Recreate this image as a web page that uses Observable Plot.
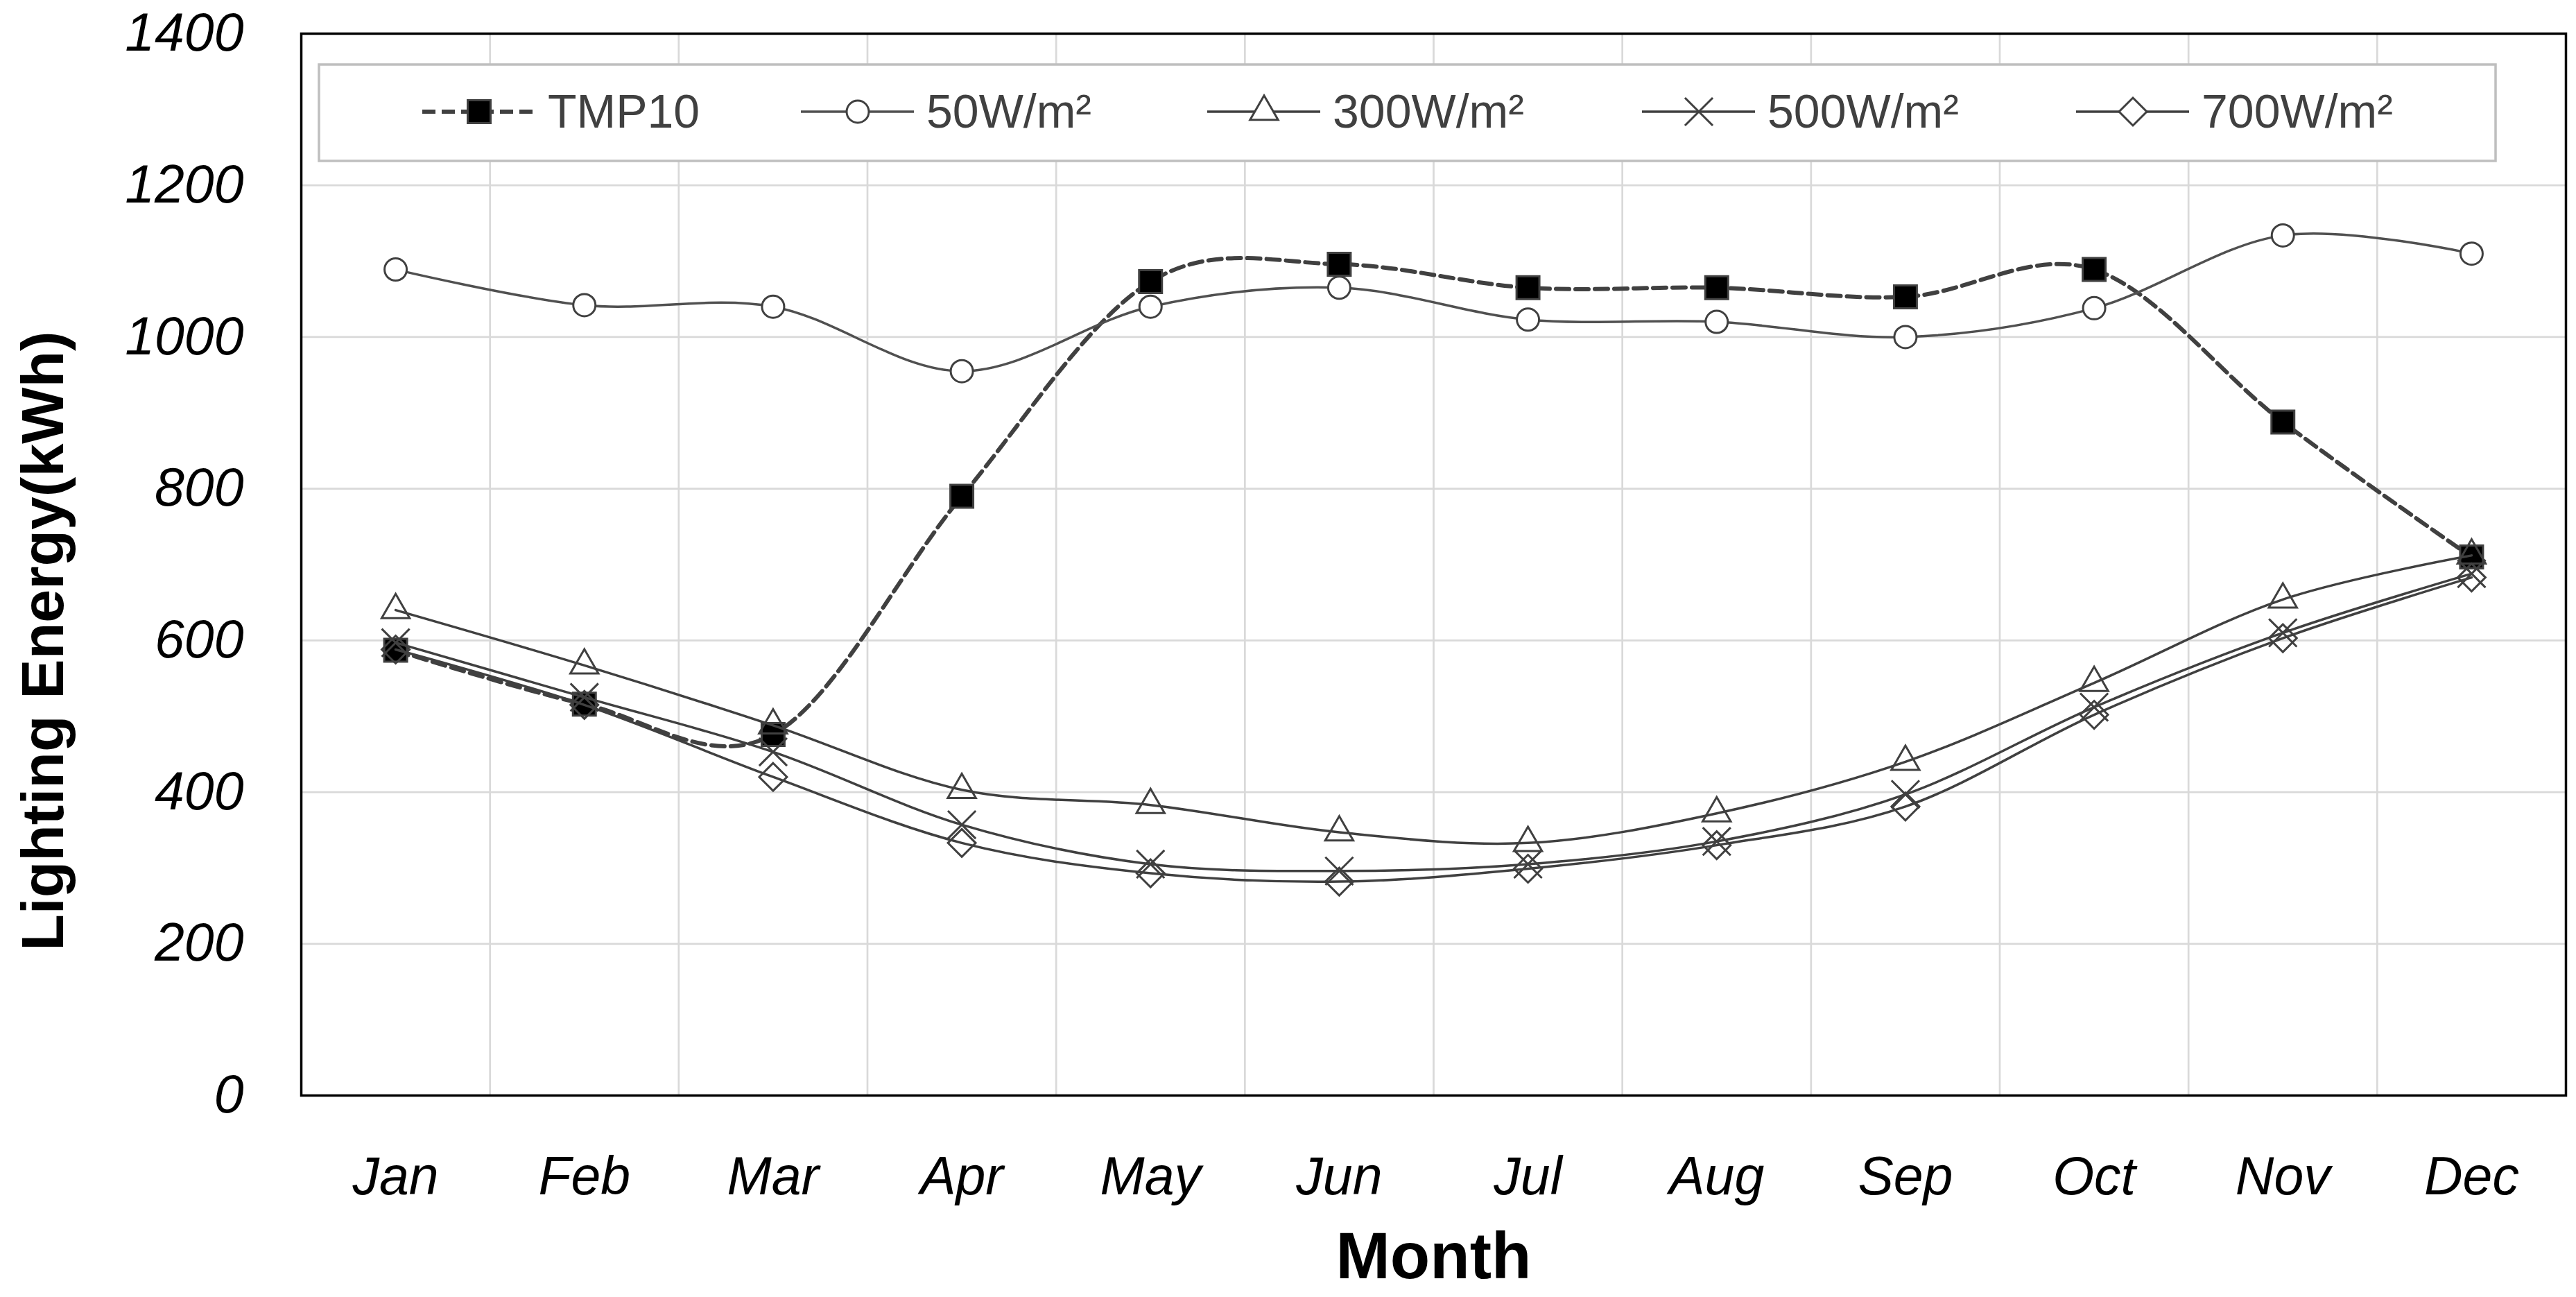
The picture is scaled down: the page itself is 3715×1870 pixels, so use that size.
<!DOCTYPE html>
<html>
<head>
<meta charset="utf-8">
<script src="https://cdn.jsdelivr.net/npm/d3@7"></script>
<script src="https://cdn.jsdelivr.net/npm/@observablehq/plot@0.6"></script>
<style>
  html, body { margin: 0; padding: 0; background: #fff; overflow: hidden; }
  #wrap { position: relative; width: 3715px; height: 1870px; }
  #legend { position: absolute; left: 0; top: 0; pointer-events: none; }
</style>
</head>
<body>
<div id="wrap"></div>
<script>
// ---------- data ----------
const months = ["Jan","Feb","Mar","Apr","May","Jun","Jul","Aug","Sep","Oct","Nov","Dec"];
const seriesNames = ["TMP10", "50W/m²", "300W/m²", "500W/m²", "700W/m²"];
const tmp10  = [587, 516, 476, 790, 1073, 1096, 1065, 1065, 1053, 1089, 888, 710];
const w50    = [1089, 1042, 1040, 955, 1040, 1065, 1023, 1020, 1000, 1038, 1134, 1110];
const w300   = [640, 567, 488, 403, 383, 347, 333, 372, 440, 544, 654, 712];
const w500   = [597, 525, 453, 357, 305, 296, 305, 335, 397, 512, 610, 688];
const w700   = [588, 515, 420, 333, 293, 282, 299, 330, 381, 502, 603, 683];
const yTicks = [0, 200, 400, 600, 800, 1000, 1200, 1400];

const values = [tmp10, w50, w300, w500, w700];
const rows = [];
seriesNames.forEach((s, si) => values[si].forEach((v, m) => rows.push({series: s, m, v})));

// ---------- styles ----------
const FONT = "'Liberation Sans', Arial, sans-serif";
const styles = {
  "TMP10":   {symbol: "square",   d3sym: d3.symbolSquare,   r: 18.6, fill: "#000",  stroke: "#404040", lw: 6,   dash: "19,9"},
  "50W/m²":  {symbol: "circle",   d3sym: d3.symbolCircle,   r: 16,   fill: "#fff",  stroke: "#505050", lw: 3.5, dash: null},
  "300W/m²": {symbol: "triangle", d3sym: d3.symbolTriangle, r: 15,   fill: "none",  stroke: "#404040", lw: 3.5, dash: null},
  "500W/m²": {symbol: "times",    d3sym: d3.symbolTimes,    r: 18.3, fill: "none",  stroke: "#404040", lw: 3.5, dash: null},
  "700W/m²": {symbol: "diamond2", d3sym: d3.symbolDiamond2, r: 18,   fill: "none",  stroke: "#404040", lw: 3.5, dash: null}
};

const seriesMarks = [];
seriesNames.forEach(s => {
  const st = styles[s];
  const d = rows.filter(r => r.series === s);
  seriesMarks.push(Plot.line(d, {
    x: "m", y: "v", curve: "cardinal", tension: 0,
    stroke: st.stroke, strokeWidth: st.lw, strokeDasharray: st.dash || undefined
  }));
  seriesMarks.push(Plot.dot(d, {
    x: "m", y: "v", symbol: st.symbol, r: st.r,
    fill: st.fill, stroke: "#404040", strokeWidth: 3
  }));
});

const chart = Plot.plot({
  width: 3715,
  height: 1870,
  marginLeft: 434,
  marginRight: 15,
  marginTop: 48,
  marginBottom: 291,
  style: {fontFamily: FONT, background: "#fff", color: "#000"},
  x: {domain: [-0.5, 11.5]},
  y: {domain: [0, 1400]},
  marks: [
    Plot.gridY({ticks: yTicks, stroke: "#d9d9d9", strokeOpacity: 1, strokeWidth: 2.7}),
    Plot.gridX({ticks: d3.range(0.5, months.length - 1, 1), stroke: "#d9d9d9", strokeOpacity: 1, strokeWidth: 2.7}),
    Plot.frame({stroke: "#000", strokeWidth: 3.5}),
    Plot.axisY({ticks: yTicks, tickFormat: d => String(d), tickSize: 0, tickPadding: 83, label: null,
      fontSize: 77, fontStyle: "italic", fontFamily: FONT, fill: "#000"}),
    Plot.axisX({ticks: d3.range(months.length), tickFormat: i => months[i], tickSize: 0, tickPadding: 88, label: null,
      fontSize: 77, fontStyle: "italic", fontFamily: FONT, fill: "#000"}),
    ...seriesMarks,
    Plot.text(["Lighting Energy(kWh)"], {text: d => d, frameAnchor: "left", rotate: -90, dx: -371, dy: 110,
      fontSize: 86, fontWeight: "bold", fontFamily: FONT, fill: "#000", lineAnchor: "middle", textAnchor: "middle"}),
    Plot.text(["Month"], {text: d => d, frameAnchor: "bottom", dy: 233,
      fontSize: 94, fontWeight: "bold", fontFamily: FONT, fill: "#000", lineAnchor: "middle", textAnchor: "middle"})
  ]
});
document.getElementById("wrap").appendChild(chart);

// ---------- legend (overlay inside plot area) ----------
const lg = d3.select("#wrap").append("svg")
  .attr("id", "legend").attr("width", 3715).attr("height", 1870);
lg.append("rect").attr("x", 460).attr("y", 93).attr("width", 3139).attr("height", 139)
  .attr("fill", "#fff").attr("stroke", "#bfbfbf").attr("stroke-width", 3.5);
const starts = [609, 1155, 1741, 2368, 2994];
const cy = 161;
seriesNames.forEach((s, i) => {
  const st = styles[s];
  const x0 = starts[i];
  const g = lg.append("g");
  g.append("line").attr("x1", x0).attr("x2", x0 + 163).attr("y1", cy).attr("y2", cy)
    .attr("stroke", st.stroke).attr("stroke-width", st.lw)
    .attr("stroke-dasharray", st.dash);
  g.append("path")
    .attr("d", d3.symbol().type(st.d3sym).size(Math.PI * st.r * st.r)())
    .attr("transform", `translate(${x0 + 82},${cy})`)
    .attr("fill", st.fill === "none" ? "#fff" : st.fill).attr("stroke", "#404040").attr("stroke-width", 3);
  g.append("text").attr("x", x0 + 181).attr("y", 184)
    .attr("font-family", FONT).attr("font-size", 68).attr("fill", "#404040")
    .text(s);
});
</script>
</body>
</html>
